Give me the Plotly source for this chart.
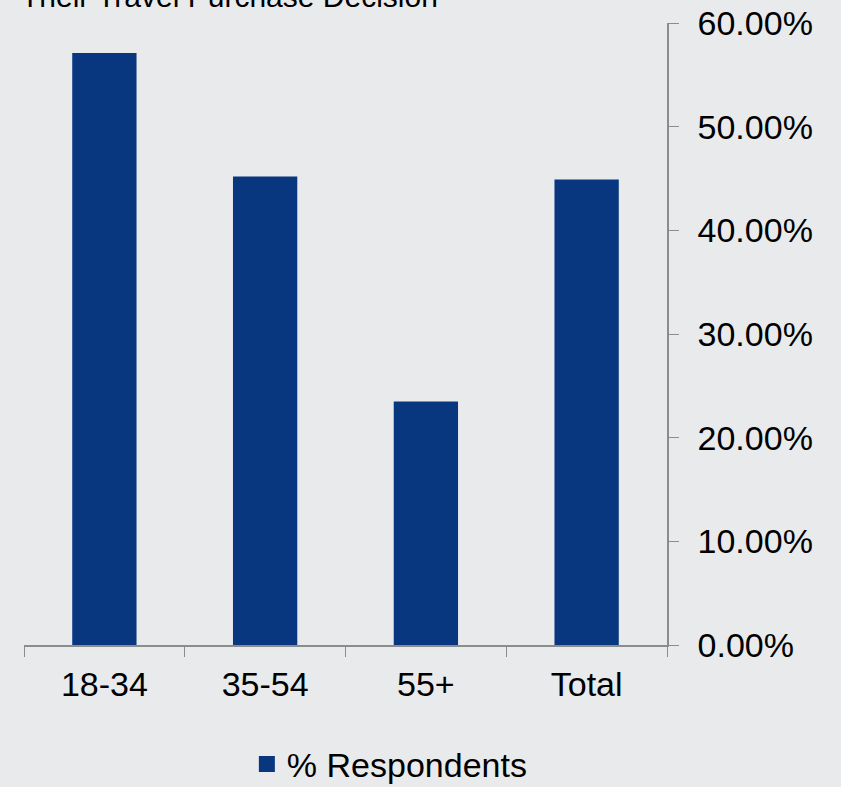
import plotly.graph_objects as go

categories = ["18-34", "35-54", "55+", "Total"]
values = [0.571, 0.452, 0.235, 0.449]
series_name = "% Respondents"
title_text = "Their Travel Purchase Decision"

FONT = "Liberation Sans, Arial, sans-serif"
BAR_COLOR = "#08377F"

fig = go.Figure()
fig.add_trace(go.Bar(
    x=categories, y=values, name=series_name,
    width=0.4,
    marker=dict(color=BAR_COLOR, line=dict(width=0)),
    showlegend=False,
))
# legend entry with a larger square symbol
fig.add_trace(go.Scatter(
    x=[None], y=[None], mode="markers", name=series_name,
    marker=dict(symbol="square", size=17, color=BAR_COLOR),
    showlegend=True,
))

fig.update_layout(
    width=841, height=787,
    margin=dict(l=24, r=174, t=23, b=142, autoexpand=False),
    paper_bgcolor="#E9EAEC",
    plot_bgcolor="rgba(0,0,0,0)",
    font=dict(family=FONT, size=34, color="#000000"),
    showlegend=True,
    legend=dict(orientation="h", x=0.569, xanchor="center", y=-0.192, yanchor="middle",
                font=dict(size=34), bgcolor="rgba(0,0,0,0)", itemwidth=30),
    xaxis=dict(
        type="category", range=[-0.5, 3.5], automargin=False,
        showline=True, linecolor="#8C8C8C", linewidth=1.5,
        ticks="outside", tickson="boundaries", ticklen=10, tickcolor="#8C8C8C", tickwidth=1,
        showgrid=False, zeroline=False, ticklabelstandoff=8,
        tickfont=dict(size=34),
    ),
    yaxis=dict(
        side="right", range=[0, 0.6], dtick=0.1, tickformat=".2%", automargin=False,
        showline=True, linecolor="#8C8C8C", linewidth=1.5,
        ticks="outside", ticklen=10, tickcolor="#8C8C8C", tickwidth=1,
        showgrid=False, zeroline=False, ticklabelstandoff=12,
        tickfont=dict(size=34),
    ),
    annotations=[dict(
        text=title_text, xref="paper", yref="paper", x=0, y=1,
        xanchor="left", yanchor="bottom", xshift=-5, yshift=8,
        showarrow=False, font=dict(size=30, color="#000000"),
    )],
)

fig.write_html("out.html")
